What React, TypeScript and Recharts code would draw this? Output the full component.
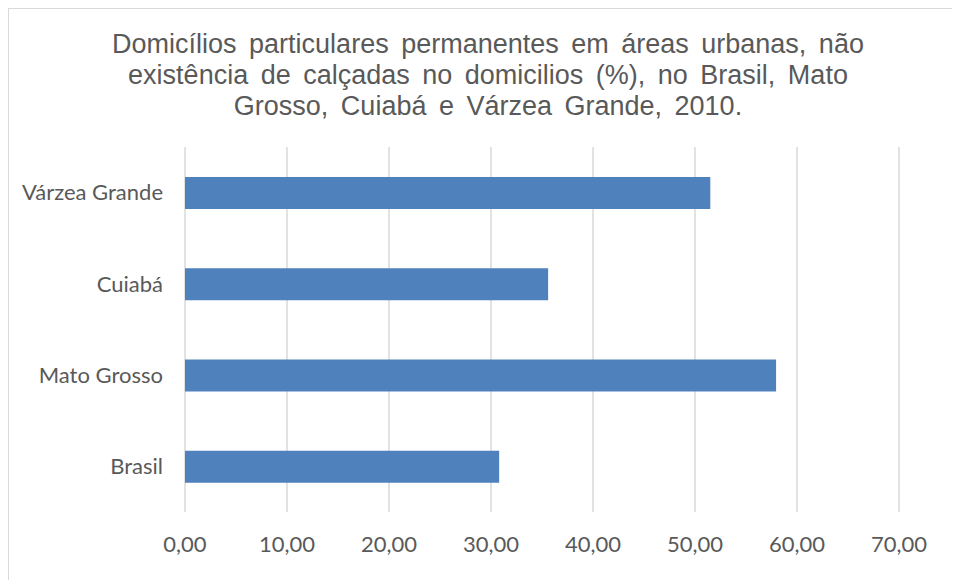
import { Bar, BarChart, CartesianGrid, XAxis, YAxis } from 'recharts';

// Domicílios sem calçada (%), 2010 – top to bottom as drawn
const locais = ['Várzea Grande', 'Cuiabá', 'Mato Grosso', 'Brasil'];
const semCalcada = [51.5, 35.6, 57.95, 30.8];
const xTicks = [0, 10, 20, 30, 40, 50, 60, 70];
const tituloLinhas = [
  'Domicílios particulares permanentes em áreas urbanas, não',
  'existência de calçadas no domicilios (%), no Brasil, Mato',
  'Grosso, Cuiabá e Várzea Grande, 2010.',
];

const data = locais.map((name, i) => ({ name, value: semCalcada[i] }));

const GRAY = '#595959';
const GRID = '#d9d9d9';
const BLUE = '#4f81bd';

const fmt = (v: number) => v.toFixed(2).replace('.', ',');

export default function App() {
  return (
    <div
      style={{
        position: 'relative',
        width: 951,
        height: 571,
        background: '#fff',
        borderTop: `1px solid ${GRID}`,
        borderLeft: `1px solid ${GRID}`,
      }}
    >
      <div
        style={{
          position: 'absolute',
          left: 79,
          top: 20,
          width: 800,
          textAlign: 'center',
          fontFamily: '"Liberation Sans", Arial, sans-serif',
          fontSize: 27,
          wordSpacing: 5,
          lineHeight: '31px',
          color: GRAY,
        }}
      >
        {tituloLinhas.map((l) => (
          <div key={l}>{l}</div>
        ))}
      </div>
      <BarChart
        layout="vertical"
        width={951}
        height={571}
        data={data}
        margin={{ top: 138, right: 61, bottom: 28, left: 0 }}
      >
        <CartesianGrid horizontal={false} stroke={GRID} strokeWidth={1.5} />
        <XAxis
          type="number"
          domain={[0, 70]}
          ticks={xTicks}
          tickFormatter={fmt}
          axisLine={false}
          tickLine={false}
          tickSize={0}
          tickMargin={24}
          height={40}
          tick={{ fontSize: 22, fill: GRAY, fontFamily: 'Lato, sans-serif' }}
        />
        <YAxis
          type="category"
          dataKey="name"
          width={176}
          axisLine={false}
          tickLine={false}
          tickSize={0}
          tickMargin={22}
          tick={{ fontSize: 22, fill: GRAY, fontFamily: 'Lato, sans-serif' }}
        />
        <Bar dataKey="value" fill={BLUE} barSize={32} isAnimationActive={false} />
      </BarChart>
    </div>
  );
}
